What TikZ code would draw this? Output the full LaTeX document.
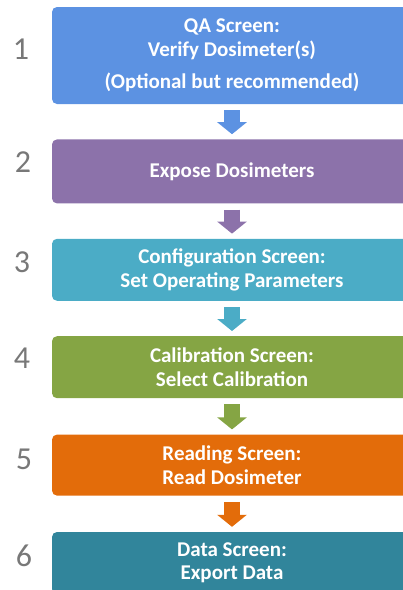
\documentclass[tikz,border=0pt]{standalone}
\usepackage{fontspec}
\setmainfont{Carlito}
\usetikzlibrary{positioning, arrows.meta}

\definecolor{qablue}{RGB}{92,146,226}
\definecolor{exposepurple}{RGB}{140,114,170}
\definecolor{configaqua}{RGB}{75,172,198}
\definecolor{calibgreen}{RGB}{133,165,68}
\definecolor{readorange}{RGB}{227,108,10}
\definecolor{datateal}{RGB}{49,133,155}
\definecolor{numgray}{RGB}{120,120,120}

\tikzset{
  stepbox/.style={rectangle, rounded corners=5pt, minimum width=360pt, inner sep=0pt,
    text=white, align=center, font=\fontsize{21}{23.5}\selectfont\bfseries},
  stepnum/.style={text=numgray, inner sep=0pt, font=\fontsize{32}{32}\selectfont},
  flowarrow/.style={line width=16pt, -{Triangle[width=29pt,length=12pt]},
    shorten <=6pt, shorten >=5pt}
}

\begin{document}
\begin{tikzpicture}[x=1pt, y=1pt, node distance=35pt]
\useasboundingbox (0,0) rectangle (403,-590);
\clip (0,0) rectangle (403,-590);

% the six steps
\node[stepbox, fill=qablue, minimum height=97pt] (qa) at (232,-55.5)
  {QA Screen:\\Verify Dosimeter(s)\\[9pt](Optional but recommended)};
\node[stepbox, fill=exposepurple, minimum height=64pt, below=of qa] (expose) {Expose Dosimeters};
\node[stepbox, fill=configaqua, minimum height=62pt, below=of expose] (config)
  {Configuration Screen:\\Set Operating Parameters};
\node[stepbox, fill=calibgreen, minimum height=62pt, below=of config] (calib)
  {Calibration Screen:\\Select Calibration};
\node[stepbox, fill=readorange, minimum height=61pt, below=36pt of calib] (read)
  {Reading Screen:\\Read Dosimeter};
\node[stepbox, fill=datateal, minimum height=62pt, below=36pt of read] (data)
  {Data Screen:\\Export Data};

% step numbers
\node[stepnum] (n1) at (21,-49) {1};
\node[stepnum] (n2) at (23,-162) {2};
\node[stepnum] (n3) at (22,-262) {3};
\node[stepnum] (n4) at (22,-358) {4};
\node[stepnum] (n5) at (24,-459) {5};
\node[stepnum] (n6) at (24,-556) {6};

% arrows
\draw[flowarrow, qablue] (qa) -- (expose);
\draw[flowarrow, exposepurple] (expose) -- (config);
\draw[flowarrow, configaqua] (config) -- (calib);
\draw[flowarrow, calibgreen] (calib) -- (read);
\draw[flowarrow, readorange] (read) -- (data);
\end{tikzpicture}
\end{document}
